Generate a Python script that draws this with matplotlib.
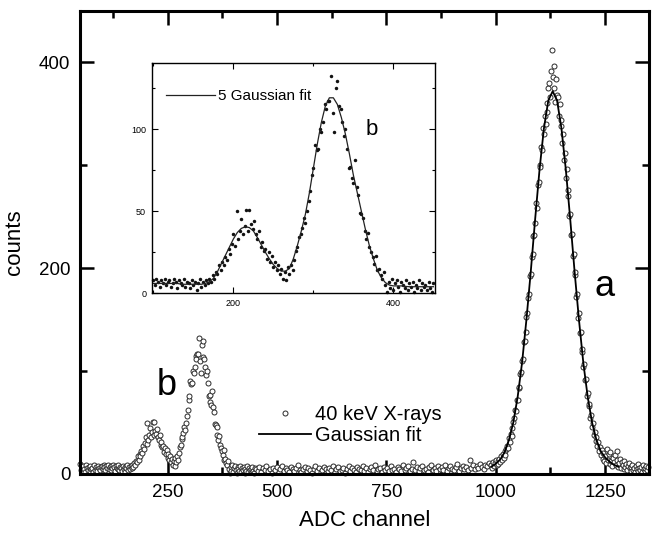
import numpy as np
import matplotlib
matplotlib.use("Agg")
import matplotlib.pyplot as plt
from matplotlib.ticker import MultipleLocator

plt.rcParams['font.family'] = ['Liberation Sans', 'DejaVu Sans']

# ---- spectrum ----
# left background, channels 50..98 step 2
ch_left = np.arange(50, 100, 2)
cnt_left = [10, 4, 7, 3, 8, 5, 2, 9, 6, 4, 7, 3, 8, 5, 6, 2, 9, 4, 7, 5,
            3, 8, 6, 4, 7]

# peak b region (also shown in inset), channels 100..450 step 2
ch_b = np.arange(100, 451, 2)
cnt_b = [8, 5, 9, 7, 4, 8, 6, 9, 5, 7,
         8, 4, 6, 9, 7, 3, 8, 6, 5, 9,
         4, 7, 6, 3, 8, 5, 7, 2, 6, 9,
         4, 7, 5, 8, 6, 9, 7, 11, 9, 13,
         12, 17, 14, 19, 17, 22, 20, 27, 24, 30,
         36, 29, 50, 33, 38, 45, 36, 41, 51, 38,
         51, 42, 39, 44, 36, 33, 38, 28, 31, 26,
         27, 21, 25, 19, 23, 16, 19, 14, 17, 12,
         15, 9, 13, 8, 16, 12, 17, 14, 20, 26,
         28, 34, 36, 40, 46, 43, 50, 56, 62, 72,
         76, 90, 87, 88, 100, 98, 104, 115, 112, 117,
         117, 132, 110, 98, 125, 129, 114, 112, 104, 96,
         100, 88, 76, 77, 70, 67, 81, 65, 60, 49,
         48, 46, 38, 33, 37, 28, 25, 22, 18, 23,
         14, 15, 11, 9, 13, 5, 1, 7, 3, 9,
         2, 6, 8, 4, 1, 7, 5, 3, 8, 2,
         6, 4, 7, 1, 5, 3, 8, 2, 6, 4,
         5, 2, 7, 3, 1, 6]

# flat middle, channels 452..988 step 4
ch_mid = np.arange(452, 990, 4)
cnt_mid = [5, 3, 7, 2, 6, 4, 8, 3, 5, 1, 6, 4, 7, 2, 5,
           8, 3, 6, 4, 2, 7, 5, 3, 6, 9, 4, 2, 5, 7, 3,
           6, 4, 1, 5, 8, 3, 6, 2, 4, 7, 5, 3, 6, 4, 8,
           2, 5, 7, 3, 4, 6, 1, 5, 8, 3, 6, 4, 2, 7, 5,
           4, 8, 3, 6, 2, 5, 7, 4, 9, 3, 5, 6, 2, 7, 4,
           6, 3, 8, 4, 5, 2, 7, 5, 3, 9, 4, 6, 8, 3, 5,
           12, 4, 7, 3, 6, 8, 4, 5, 2, 7, 9, 4, 6, 3, 8,
           5, 7, 4, 9, 3, 6, 8, 5, 4, 7, 10, 3, 6, 8, 5,
           7, 4, 14, 6, 9, 5, 8, 6, 10, 7, 5, 9, 8, 11, 9]

# peak a, channels 990..1348 step 2
ch_a = np.arange(990, 1350, 2)
cnt_a = [9, 6, 12, 8, 11, 14, 9, 13, 10, 15,
         12, 17, 14, 19, 16, 22, 18, 24, 27, 25,
         35, 31, 39, 37, 45, 51, 54, 62, 61, 72,
         72, 84, 85, 97, 99, 110, 112, 128, 129, 138,
         153, 156, 171, 175, 192, 194, 211, 214, 231, 232,
         244, 263, 259, 281, 284, 300, 298, 318, 315, 336,
         330, 348, 340, 361, 352, 375, 380, 366, 392, 412,
         386, 375, 397, 362, 384, 368, 366, 348, 360, 338,
         344, 322, 330, 305, 312, 288, 296, 270, 276, 251,
         253, 232, 233, 212, 214, 193, 196, 172, 175, 152,
         156, 137, 138, 119, 121, 104, 107, 91, 92, 76,
         79, 66, 68, 54, 57, 46, 50, 38, 41, 32,
         36, 27, 31, 22, 26, 18, 23, 15, 20, 13,
         17, 11, 24, 14, 19, 10, 21, 13, 8, 16,
         12, 18, 9, 14, 22, 7, 11, 15, 6, 12,
         9, 5, 13, 7, 10, 4, 8, 11, 6, 3,
         7, 9, 4, 6, 2, 8, 5, 10, 3, 6,
         4, 7, 2, 9, 5, 3, 6, 8, 4, 7]

# Gaussian fit of peak a, channels 990..1280 step 10
fit_a_ch = np.arange(990, 1281, 10)
fit_a = [7, 10, 14, 21, 33, 50, 75, 108, 150, 197, 248, 296, 336, 363, 372,
         363, 336, 296, 248, 197, 150, 108, 75, 50, 33, 22, 16, 12, 9, 7]

# 5 Gaussian fit in inset, channels 100..450 step 5
fit_b_ch = np.arange(100, 451, 5)
fit_b = [6, 6, 6, 6, 6, 6, 6, 5.5, 5.5, 5.5,
         5.5, 5.5, 5.5, 6, 7, 9, 13, 18, 23, 28,
         33, 37, 39.5, 40.5, 40, 38, 34, 29.5, 25, 21,
         17.5, 15, 13.5, 13.5, 15, 21, 29, 38, 48, 61,
         76, 91, 104, 114, 119, 119, 115, 107, 97, 85,
         72, 61, 50, 39, 29, 21, 14, 9.5, 6.5, 5,
         4.5, 4.5, 4.5, 4.2, 4, 4, 4, 4, 4, 4,
         4]

ch_all = np.concatenate([ch_left, ch_b, ch_mid, ch_a])
cnt_all = np.concatenate([cnt_left, cnt_b, cnt_mid, cnt_a])

fig = plt.figure(figsize=(6.55, 5.36), dpi=100)
ax = fig.add_axes([0.1221, 0.1157, 0.8687, 0.8638])

ax.plot(ch_all, cnt_all, 'o', ms=3.6, mfc='white', mec='#2a2a2a', mew=0.7,
        label='40 keV X-rays', clip_on=False)
ax.plot(fit_a_ch, fit_a, '-', color='black', lw=1.3, label='Gaussian fit')

ax.set_xlim(50, 1350)
ax.set_ylim(0, 450)
ax.xaxis.set_major_locator(MultipleLocator(250))
ax.xaxis.set_minor_locator(MultipleLocator(125))
ax.yaxis.set_major_locator(MultipleLocator(200))
ax.yaxis.set_minor_locator(MultipleLocator(100))
ax.tick_params(which='both', direction='in', top=True, right=True,
               width=1.8, labelsize=13.5, pad=7)
ax.tick_params(which='major', length=10)
ax.tick_params(which='minor', length=5)
for s in ax.spines.values():
    s.set_linewidth(2.2)
ax.set_xlabel('ADC channel', fontsize=16, labelpad=7)
ax.set_ylabel('counts', fontsize=16, labelpad=10)

ax.legend(loc='lower left', bbox_to_anchor=(0.3, 0.045), frameon=False,
          fontsize=14.5, handlelength=2.6, handletextpad=0.2,
          borderaxespad=0, labelspacing=0.1)
ax.text(248, 86, 'b', fontsize=26, ha='center', va='center')
ax.text(1248, 182, 'a', fontsize=26, ha='center', va='center')

# ---- inset ----
ins = fig.add_axes([0.2316, 0.4528, 0.4325, 0.4291])
ins.plot(ch_b, cnt_b, 'o', ms=2.5, color='#111111', mew=0, clip_on=False)
ins.plot(fit_b_ch, fit_b, '-', color='#222222', lw=0.9, label='5 Gaussian fit')
ins.set_xlim(98, 452)
ins.set_ylim(0, 140)
ins.xaxis.set_major_locator(MultipleLocator(200))
ins.xaxis.set_minor_locator(MultipleLocator(100))
ins.yaxis.set_major_locator(MultipleLocator(50))
ins.yaxis.set_minor_locator(MultipleLocator(25))
ins.tick_params(which='both', direction='in', top=True, right=True,
                width=0.8, labelsize=6.5, pad=4)
ins.tick_params(which='major', length=4)
ins.tick_params(which='minor', length=2.5)
for s in ins.spines.values():
    s.set_linewidth(1.0)
ins.legend(loc='center left', bbox_to_anchor=(0.03, 0.858), frameon=False,
           fontsize=11, handlelength=3.2, handletextpad=0.2, borderaxespad=0)
ins.text(373, 100, 'b', fontsize=16, ha='center', va='center')

fig.savefig('out.png', dpi=100)
